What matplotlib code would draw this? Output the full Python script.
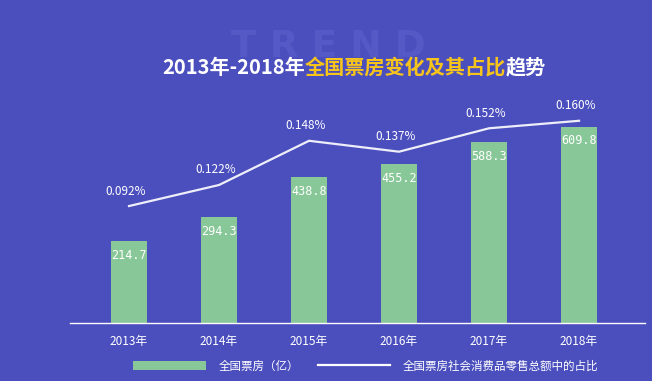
import matplotlib
matplotlib.use('Agg')
import matplotlib.pyplot as plt
from matplotlib.patches import Patch
from matplotlib.lines import Line2D

plt.rcParams['font.family'] = ['Noto Sans CJK SC', 'DejaVu Sans']

years = ['2013年', '2014年', '2015年', '2016年', '2017年', '2018年']
box_office = [214.7, 294.3, 438.8, 455.2, 588.3, 609.8]
# bar heights as drawn in the picture (same units, not to scale with labels)
bar_drawn = [254.7, 328.4, 452.6, 493.9, 561.4, 609.8]
share_labels = ['0.092%', '0.122%', '0.148%', '0.137%', '0.152%', '0.160%']
# line heights as drawn in the picture (percent)
share_line = [0.0967, 0.1127, 0.1463, 0.1380, 0.1558, 0.1615]

bg = '#4b4fbe'
green = '#88c898'
yellow = '#f7c41c'

fig = plt.figure(figsize=(6.52, 3.81), dpi=100)
fig.patch.set_facecolor(bg)

ax = fig.add_axes([70/652, 58/381, 575/652, 233/381])
ax.set_facecolor('none')
x = list(range(len(years)))
ax.bar(x, bar_drawn, width=0.41, color=green, zorder=2)
for i, (h, v) in enumerate(zip(bar_drawn, box_office)):
    ax.annotate(f'{v}', (i, h), xytext=(0, -14), textcoords='offset pixels',
                ha='center', va='center', color='white', fontsize=8.5,
                family='DejaVu Sans Mono')
ax.set_xlim(-0.656, 5.733)
ax.set_ylim(0, 723.8)
ax.set_xticks(x)
ax.set_xticklabels(years, color='white', fontsize=8.5)
ax.tick_params(axis='x', length=0, pad=9)
ax.set_yticks([])
for s in ['top', 'right', 'left']:
    ax.spines[s].set_visible(False)
ax.spines['bottom'].set_color('white')
ax.spines['bottom'].set_linewidth(1)

ax2 = ax.twinx()
ax2.plot(x, share_line, color='#eeeef8', lw=1.6, zorder=3)
for i, (v, lab) in enumerate(zip(share_line, share_labels)):
    ax2.annotate(lab, (i, v), xytext=(-3, 15), textcoords='offset pixels',
                 ha='center', va='center', color='white', fontsize=8.5)
ax2.set_ylim(0.0078, 0.1849)
ax2.set_yticks([])
for s in ax2.spines.values():
    s.set_visible(False)

# watermark
fig.text(328/652, 1 - 47/381, 'T R E N D', ha='center', va='center', fontsize=27,
         fontweight='bold', color='#5459c5', family='DejaVu Sans', zorder=0)

# title in three colours
parts = [('2013年-2018年', 'white'), ('全国票房变化及其占比', yellow), ('趋势', 'white')]
r = fig.canvas.get_renderer()
texts = []
widths = []
for s, c in parts:
    t = fig.text(0, 1 - 67/381, s, color=c, fontsize=14.5, fontweight='bold', va='center', ha='left')
    texts.append(t)
    widths.append(t.get_window_extent(r).width)
start = 354 - sum(widths) / 2
for t, w in zip(texts, widths):
    t.set_x(start / 652)
    start += w

handles = [Patch(facecolor=green, edgecolor='none'),
           Line2D([0], [0], color='white', lw=1.6)]
fig.legend(handles, ['全国票房（亿）', '全国票房社会消费品零售总额中的占比'],
           loc='center', bbox_to_anchor=(366/652, 15/381), ncol=2, frameon=False,
           fontsize=8.3, labelcolor='white', handlelength=6.3, handleheight=0.9,
           handletextpad=1.1, columnspacing=1.6)

fig.savefig('out.png', dpi=100, facecolor=bg)
